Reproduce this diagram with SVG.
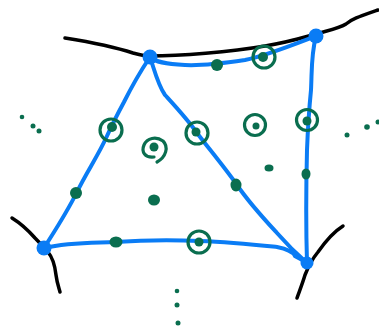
<svg xmlns="http://www.w3.org/2000/svg" width="379" height="330" viewBox="0 0 379 330">
<style>
.blk{fill:none;stroke:#000;stroke-width:3.5;stroke-linecap:round;stroke-linejoin:round}
.edge{fill:none;stroke:#0a7cf5;stroke-width:4;stroke-linecap:round;stroke-linejoin:round}
.vtx{fill:#0a7cf5}
.dot{fill:#0a6e4f}
.ring{fill:none;stroke:#0a6e4f;stroke-width:3.2;stroke-linecap:round}
</style>
<rect width="379" height="330" fill="#fff"/>
<g id="boundary">
<path class="blk" d="M65,38 C90,42 115,47 133,53 C140,55 145,56 150,56 C180,56 230,52 265,46 C290,42 305,37 316,34 C330,30 340,28 346,24 C352,19 358,17 378,10"/>
<path class="blk" d="M12,218 C20,223 28,230 35,238 C40,243 44,248 48,252 C53,258 55,266 56,275 C57,283 59,288 60,292"/>
<path class="blk" d="M343,226 C335,231 325,242 318,252 C313,258 309,265 305,275 C302,285 299,292 297,298"/>
</g>
<g id="connectors">
<path class="edge" d="M150,57 C155,62 165,64 185,65 C205,66 225,63 245,60 C265,56 290,46 316,36"/>
<path class="edge" d="M150,57 C140,72 130,90 124,102 C117,115 112,125 107,136 C98,156 86,173 77,192 C66,214 54,232 44,248"/>
<path class="edge" d="M150,57 C155,72 158,85 165,95 C175,106 188,120 197,133 C210,150 225,168 237,185 C250,204 265,220 277,233 C284,241 292,250 307,263"/>
<path class="edge" d="M316,36 C311,55 312,70 311,90 C309,110 308,125 307,150 C306,190 306,230 307,263"/>
<path class="edge" d="M44,248 C70,242 95,243 115,242 C145,240 175,240 200,241 C230,242 258,245 277,247 C287,249 293,252 295,256 C298,258 303,260 307,263"/>
</g>
<g id="vertices">
<circle id="vA" class="vtx" cx="150" cy="57" r="7.5"/>
<circle id="vB" class="vtx" cx="316" cy="36" r="7.5"/>
<circle id="vC" class="vtx" cx="44" cy="248" r="7.5"/>
<circle id="vD" class="vtx" cx="307" cy="263" r="6.5"/>
</g>
<g id="dots">
<ellipse id="d1" class="dot" cx="217" cy="65" rx="6" ry="6"/>
<ellipse id="d2" class="dot" cx="76" cy="193" rx="6" ry="6"/>
<ellipse id="d3" class="dot" cx="236" cy="185" rx="5.5" ry="6.5"/>
<ellipse id="d4" class="dot" cx="306" cy="174" rx="4.5" ry="5.5"/>
<ellipse id="d5" class="dot" cx="116" cy="242" rx="6.5" ry="5.5"/>
<ellipse id="d6" class="dot" cx="154" cy="200" rx="6" ry="5.5"/>
<ellipse id="d7" class="dot" cx="269" cy="168" rx="4.5" ry="3.5"/>
</g>
<g id="rings">
<g id="r1"><circle class="ring" cx="264" cy="57" r="11"/><circle class="dot" cx="263" cy="57" r="5"/></g>
<g id="r2"><circle class="ring" cx="111" cy="130" r="11"/><circle class="dot" cx="112" cy="127" r="5"/></g>
<g id="r3"><circle class="ring" cx="197" cy="133" r="11"/><circle class="dot" cx="196" cy="132" r="4.5"/></g>
<g id="r4"><path class="ring" d="M157,162 C166,157 169,147 163,141 C156,136 147,138 144,145 C141,152 145,158 154,157"/><circle class="dot" cx="154" cy="147" r="4.5"/></g>
<g id="r5"><circle class="ring" cx="255" cy="125" r="10.5"/><circle class="dot" cx="256" cy="126" r="3.5"/></g>
<g id="r6"><circle class="ring" cx="307" cy="120" r="10.5"/><circle class="dot" cx="307" cy="121" r="4.5"/></g>
<g id="r7"><circle class="ring" cx="199" cy="242" r="11"/><circle class="dot" cx="199" cy="242" r="4.5"/></g>
</g>
<g id="ellipsis-left">
<circle class="dot" cx="22" cy="117" r="2.3"/>
<circle class="dot" cx="33" cy="126" r="2.5"/>
<circle class="dot" cx="39" cy="131" r="2.5"/>
</g>
<g id="ellipsis-right">
<circle class="dot" cx="347" cy="135" r="2.5"/>
<circle class="dot" cx="367" cy="127" r="2.8"/>
<circle class="dot" cx="378" cy="122" r="2.5"/>
</g>
<g id="ellipsis-bottom">
<circle class="dot" cx="177" cy="291" r="2.3"/>
<circle class="dot" cx="177" cy="305" r="2.5"/>
<circle class="dot" cx="178" cy="323" r="2.5"/>
</g>
</svg>
